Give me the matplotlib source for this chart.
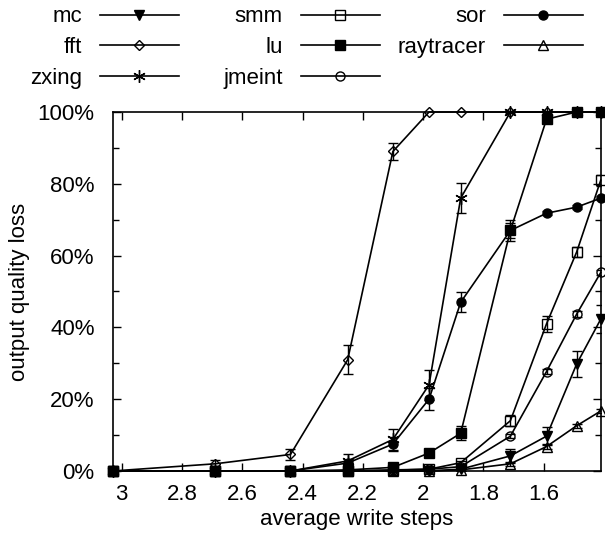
import numpy as np
import matplotlib
matplotlib.use('Agg')
from matplotlib import pyplot as plt
from matplotlib.ticker import MultipleLocator, FuncFormatter

plt.rcParams['font.family'] = ['Liberation Sans', 'DejaVu Sans']

# average write steps (same for every benchmark)
steps = np.array([3.03, 2.69, 2.44, 2.25, 2.10, 1.98, 1.875, 1.71, 1.59, 1.49, 1.41])

# output quality loss (%) and error (%)
mc = np.array([0, 0, 0, 0, 0, 0, 0.5, 4.2, 9.7, 29.8, 42.3])
mc_err = np.array([0, 0, 0, 0, 0, 0, 0.5, 2.0, 2.5, 3.7, 4.0])
fft = np.array([0, 2, 4.6, 31, 89, 100, 100, 100, 100, 100, 100])
fft_err = np.array([0, 1.0, 1.5, 4.0, 2.4, 0, 0, 0, 0, 0, 0])
zxing = np.array([0, 0, 0, 2.8, 8.8, 24, 76, 100, 100, 100, 100])
zxing_err = np.array([0, 0, 0, 1.8, 3.0, 4.2, 4.2, 0, 0, 0, 0])
smm = np.array([0, 0, 0, 0, 0.3, 0.5, 2.3, 14, 41, 61, 81])
smm_err = np.array([0, 0, 0, 0, 0, 0, 0.5, 1.5, 2.2, 1.5, 1.5])
lu = np.array([0, 0, 0, 0.3, 1, 5, 10.5, 67, 98, 100, 100])
lu_err = np.array([0, 0, 0, 0, 0.3, 1.0, 2.0, 3.0, 1.0, 0, 0])
jmeint = np.array([0, 0, 0, 0, 0.2, 0.5, 1.2, 9.7, 27.7, 43.7, 55.3])
jmeint_err = np.array([0, 0, 0, 0, 0, 0.3, 0.5, 0.5, 0.8, 0.8, 0.8])
sor = np.array([0, 0, 0, 2.2, 7.5, 20, 47, 67, 71.8, 73.5, 76])
sor_err = np.array([0, 0, 0, 0.5, 2.0, 3.0, 2.8, 2.0, 0.5, 0.5, 0.5])
raytracer = np.array([0, 0, 0, 0, 0, 0, 0.3, 2, 6.8, 12.6, 16.7])
raytracer_err = np.array([0, 0, 0, 0, 0, 0, 0.3, 0.6, 0.8, 0.5, 0.5])

series = [
    ('mc', mc, mc_err, dict(marker='v', mfc='k')),
    ('fft', fft, fft_err, dict(marker='D', mfc='none', ms=5)),
    ('zxing', zxing, zxing_err, dict(marker=(6, 2, 0), ms=9)),
    ('smm', smm, smm_err, dict(marker='s', mfc='none')),
    ('lu', lu, lu_err, dict(marker='s', mfc='k')),
    ('jmeint', jmeint, jmeint_err, dict(marker='o', mfc='none')),
    ('sor', sor, sor_err, dict(marker='o', mfc='k')),
    ('raytracer', raytracer, raytracer_err, dict(marker='^', mfc='none')),
]

FS = 16

fig = plt.figure(figsize=(6.05, 5.39), dpi=100)
ax = fig.add_axes([0.1863, 0.1262, 0.8067, 0.666])

handles = []
for name, y, e, style in series:
    kw = dict(color='k', lw=1.2, ms=6.5, mew=1.0, clip_on=False, zorder=3)
    kw.update(style)
    h, = ax.plot(steps, y, label=name, **kw)
    handles.append(h)
    m = e > 0
    ax.errorbar(steps[m], y[m], yerr=e[m], fmt='none', ecolor='k',
                elinewidth=1.0, capsize=3.5, capthick=1.0, zorder=2)

ax.set_xlim(3.03, 1.41)
ax.set_ylim(0, 100)
ax.xaxis.set_major_locator(MultipleLocator(0.2))
ax.xaxis.set_major_formatter(FuncFormatter(lambda v, p: '%g' % round(v, 1)))
ax.yaxis.set_major_locator(MultipleLocator(20))
ax.yaxis.set_minor_locator(MultipleLocator(10))
ax.yaxis.set_major_formatter(FuncFormatter(lambda v, p: '%d%%' % v))
ax.tick_params(which='both', direction='in', top=True, right=True,
               labelsize=FS, width=1.0)
ax.tick_params(which='major', length=6)
ax.tick_params(axis='x', pad=9.5)
ax.tick_params(axis='y', pad=13)
ax.tick_params(which='minor', length=4)
for s in ax.spines.values():
    s.set_linewidth(1.2)

ax.set_xlabel('average write steps', fontsize=FS)
ax.set_ylabel('output quality loss', fontsize=FS)
ax.xaxis.set_label_coords(0.5, -0.106)
ax.yaxis.set_label_coords(-0.1695, 0.5)

# gnuplot-style key: three fixed-width columns
cols = [handles[0:3], handles[3:6], handles[6:8]]
rights = [179, 380, 583]
for hs, r in zip(cols, rights):
    fig.legend(handles=hs, loc='upper right',
               bbox_to_anchor=(r / 605, 0.988), frameon=False,
               markerfirst=False, fontsize=FS, borderpad=0,
               borderaxespad=0, handlelength=3.56, handletextpad=0.81,
               labelspacing=0.43)

plt.savefig('out.png', dpi=100)
